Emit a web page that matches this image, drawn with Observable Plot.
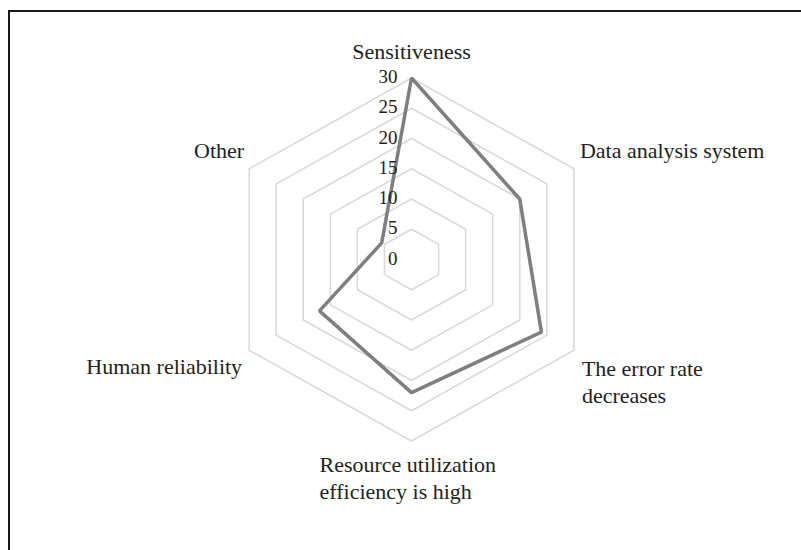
<!DOCTYPE html>
<html>
<head>
<meta charset="utf-8">
<script src="https://cdn.jsdelivr.net/npm/d3@7"></script>
<script src="https://cdn.jsdelivr.net/npm/@observablehq/plot@0.6"></script>
<style>
  html, body { margin: 0; padding: 0; background: #fff; overflow: hidden; }
  #wrap { position: relative; width: 801px; height: 550px; }
  #frame { position: absolute; left: 8px; top: 10px; width: 900px; height: 700px; border: 2px solid #1a1a1a; box-sizing: border-box; pointer-events: none; }
  #chart { position: absolute; left: 0; top: 0; }
</style>
</head>
<body>
<div id="wrap">
  <div id="chart"></div>
  <div id="frame"></div>
</div>
<script>
// ---- data ----
const categories = [
  "Sensitiveness",
  "Data analysis system",
  "The error rate\ndecreases",
  "Resource utilization\nefficiency is high",
  "Human reliability",
  "Other"
];
const values = [30, 20, 24, 22, 17, 5.5];
const ticks = [0, 5, 10, 15, 20, 25, 30];
const maxValue = 30;

// ---- derived geometry (polar -> cartesian in data units) ----
const n = categories.length;
const angle = i => (i * 2 * Math.PI) / n; // clockwise from top
const px = (r, i) => r * Math.sin(angle(i));
const py = (r, i) => r * Math.cos(angle(i));

const series = values.map((v, i) => ({cat: categories[i], x: px(v, i), y: py(v, i)}));
const grid = ticks.filter(t => t > 0).flatMap(t =>
  categories.map((c, i) => ({ring: t, x: px(t, i), y: py(t, i)})));
const labels = categories.map((c, i) => ({cat: c, i, x: px(maxValue, i), y: py(maxValue, i)}));
const tickLabels = ticks.map(t => ({t, x: 0, y: t}));

// layout
const W = 801, H = 550, cx = 411, cy = 259, kx = 6.25, ky = 6.05;
const font = "'Liberation Serif', 'Times New Roman', serif";
const txt = "#222";

const lab = (idx, opts) => Plot.text(labels.filter(d => idx.includes(d.i)), {
  x: "x", y: "y", text: "cat", fill: txt, fontSize: 22, lineHeight: 1.23, ...opts
});

const chart = Plot.plot({
  width: W,
  height: H,
  margin: 0,
  style: {fontFamily: font, background: "transparent"},
  x: {domain: [-cx / kx, (W - cx) / kx], axis: null},
  y: {domain: [-(H - cy) / ky, cy / ky], axis: null},
  marks: [
    Plot.line(grid, {x: "x", y: "y", z: "ring", curve: "linear-closed", stroke: "#d9d9d9", strokeWidth: 1.5}),
    Plot.line(series, {x: "x", y: "y", curve: "linear-closed", stroke: "#7f7f7f", strokeWidth: 3.5, strokeLinejoin: "miter"}),
    Plot.text(tickLabels, {x: "x", y: "y", text: d => String(d.t), textAnchor: "end", dx: -14, dy: -1, fontSize: 19, fill: txt}),
    lab([0], {textAnchor: "middle", dy: -28}),
    lab([1], {textAnchor: "start", dx: 6, dy: -19}),
    lab([2], {textAnchor: "start", dx: 8, dy: 31}),
    lab([3], {textAnchor: "start", dx: -92, dy: 36}),
    lab([4], {textAnchor: "end", dx: -7, dy: 15}),
    lab([5], {textAnchor: "end", dx: -5, dy: -19})
  ]
});
document.getElementById("chart").appendChild(chart);
</script>
</body>
</html>
